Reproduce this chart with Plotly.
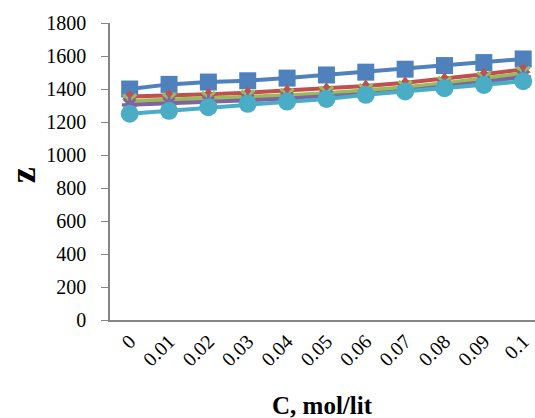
import plotly.graph_objects as go

categories = ["0", "0.01", "0.02", "0.03", "0.04", "0.05", "0.06", "0.07", "0.08", "0.09", "0.1"]
s_blue = [1400, 1428, 1442, 1450, 1466, 1485, 1502, 1520, 1542, 1560, 1582]
s_red = [1355, 1360, 1368, 1378, 1390, 1402, 1418, 1438, 1462, 1490, 1518]
s_green = [1328, 1335, 1344, 1352, 1362, 1375, 1390, 1410, 1435, 1462, 1495]
s_purple = [1305, 1312, 1322, 1332, 1342, 1355, 1370, 1390, 1415, 1442, 1475]
s_cyan = [1250, 1268, 1290, 1310, 1324, 1340, 1365, 1385, 1405, 1425, 1447]

fig = go.Figure()

def add(y, color, symbol, size, mline=None):
    marker = dict(symbol=symbol, size=size, color=color)
    if mline is not None:
        marker["line"] = mline
    else:
        marker["line"] = dict(width=0)
    fig.add_trace(go.Scatter(x=categories, y=y, mode="lines+markers",
                             line=dict(color=color, width=4), marker=marker))

add(s_blue, "#4F81BD", "square", 17)
add(s_red, "#C0504D", "triangle-up", 13)
add(s_green, "#9BBB59", "x-thin", 13, dict(width=3, color="#9BBB59"))
add(s_purple, "#8064A2", "asterisk", 13, dict(width=3, color="#8064A2"))
add(s_cyan, "#4BACC6", "circle", 18)

serif = "Liberation Serif, Times New Roman, serif"
font = dict(family=serif, size=20, color="black")

fig.update_layout(
    width=535, height=418,
    margin=dict(l=110, r=0, t=23, b=98),
    paper_bgcolor="white", plot_bgcolor="white",
    showlegend=False,
    font=font,
    xaxis=dict(type="category", range=[-0.5, 10.3], showgrid=False, zeroline=False,
               showline=True, linecolor="#868686", linewidth=1.5, ticks="",
               tickangle=-45, tickfont=font),
    yaxis=dict(range=[0, 1800], dtick=200, showgrid=False, zeroline=False,
               showline=True, linecolor="#868686", linewidth=1.5, ticks="outside",
               ticklen=7, tickcolor="#868686", tickfont=font, ticklabelstandoff=11),
    annotations=[
        dict(text="<b>C, mol/lit</b>", xref="paper", yref="paper", x=0.5, y=-0.289,
             xanchor="center", yanchor="middle", showarrow=False,
             font=dict(family=serif, size=25, color="black")),
        dict(text="<b>z</b>", xref="paper", yref="paper", x=-0.205, y=0.487,
             xanchor="center", yanchor="middle", showarrow=False, textangle=-90,
             font=dict(family=serif, size=36, color="black")),
    ],
)

fig.write_html("out.html")
